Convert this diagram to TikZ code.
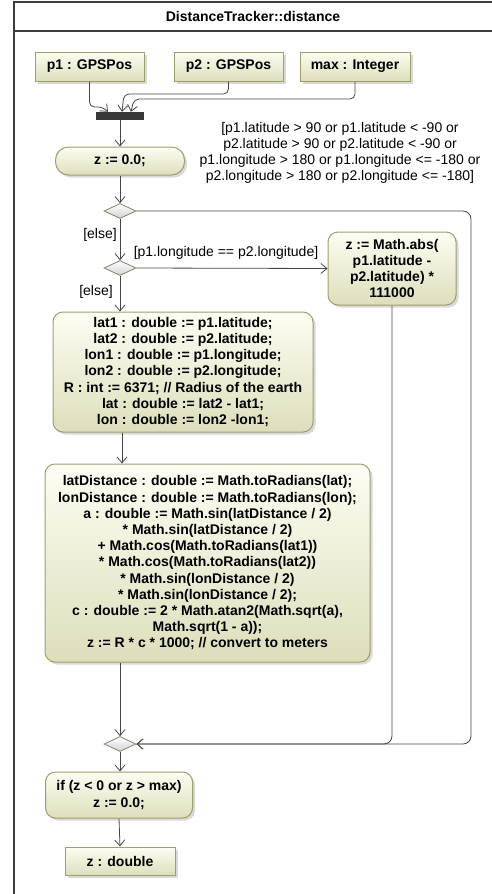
\documentclass[tikz,border=0pt]{standalone}
\usepackage{fontspec}
\setmainfont{Liberation Sans}
\usepackage{tikz}
\usetikzlibrary{arrows.meta,positioning,shapes.geometric,shadows}
\definecolor{FrameGray}{RGB}{60,60,60}
\definecolor{FlowGray}{RGB}{70,70,70}
\definecolor{BarGray}{RGB}{55,55,55}
\definecolor{OliveLine}{RGB}{158,158,112}
\definecolor{OliveTop}{RGB}{253,253,243}
\definecolor{OliveLow}{RGB}{222,222,188}
\definecolor{DiamondLine}{RGB}{128,128,108}

\begin{document}
\begin{tikzpicture}[x=1pt, y=-1pt,
    every node/.style={font=\fontsize{14}{16.2}\selectfont\bfseries, inner sep=2pt},
    action/.style={draw=OliveLine, line width=1pt, rounded corners=10pt, top color=OliveTop, bottom color=OliveLow, align=center,
        drop shadow={opacity=0.3, shadow xshift=2.5pt, shadow yshift=-2.5pt}},
    pin/.style={action, rounded corners=0pt, minimum height=29pt},
    decision/.style={diamond, draw=DiamondLine, line width=0.8pt, top color=white, bottom color=gray!35, minimum width=32pt, minimum height=15pt, inner sep=0pt},
    guard/.style={font=\fontsize{14}{16}\selectfont, align=center, inner sep=0pt},
    flow/.style={draw=FlowGray, line width=0.8pt, -{Straight Barb[length=6pt,width=10pt]}}
]
    \useasboundingbox (0,0) rectangle (491,894);
    % frame of the activity
    \draw[FrameGray, line width=1.5pt] (14,2) rectangle (500,900);
    \draw[FrameGray, line width=1.5pt] (14,31) -- (500,31);
    \node (title) at (253,16) {DistanceTracker::distance};

    % parameters
    \node[pin, minimum width=109pt] (p1pin) at (89.5,66.5) {p1 : GPSPos};
    \node[pin, minimum width=109pt] (p2pin) at (228.5,66.5) {p2 : GPSPos};
    \node[pin, minimum width=110pt] (maxpin) at (355,66.5) {max : Integer};
    \node[fill=BarGray, minimum width=48pt, minimum height=8pt, inner sep=0pt] (fork) at (120,116) {};

    % actions
    \node[action, rounded corners=13pt, minimum width=129pt, minimum height=28pt] (init) at (120,161) {z := 0.0;};
    \node[decision] (split) at (120,211) {};
    \node[decision] (same) at (120,268) {};
    \node[action, minimum width=128pt, minimum height=73pt] (abs) at (392,268.5)
        {z := Math.abs(\\p1.latitude -\\p2.latitude) *\\111000};
    \node[action, minimum width=260pt, minimum height=120pt] (vars) at (183,372)
        {lat1 : double := p1.latitude;\\
         lat2 : double := p2.latitude;\\
         lon1 : double := p1.longitude;\\
         lon2 : double := p2.longitude;\\
         R : int := 6371; // Radius of the earth\\
         lat : double := lat2 - lat1;\\
         lon : double := lon2 -lon1;};
    \node[action, minimum width=325pt, minimum height=198pt] (calc) at (207.5,563)
        {latDistance : double := Math.toRadians(lat);\\
         lonDistance : double := Math.toRadians(lon);\\
         a : double := Math.sin(latDistance / 2)\\
         * Math.sin(latDistance / 2)\\
         + Math.cos(Math.toRadians(lat1))\\
         * Math.cos(Math.toRadians(lat2))\\
         * Math.sin(lonDistance / 2)\\
         * Math.sin(lonDistance / 2);\\
         c : double := 2 * Math.atan2(Math.sqrt(a),\\
         Math.sqrt(1 - a));\\
         z := R * c * 1000; // convert to meters};
    \node[decision] (merge) at (120,744) {};
    \node[action, minimum width=147pt, minimum height=46pt] (check) at (119,795)
        {if (z < 0 or z > max)\\z := 0.0;};
    \node[pin, minimum width=110pt, minimum height=28pt] (result) at (120,861) {z : double};

    % guards
    \node[guard] (rangeGuard) at (340,153)
        {[p1.latitude > 90 or p1.latitude < -90 or\\
         p2.latitude > 90 or p2.latitude < -90 or\\
         p1.longitude > 180 or p1.longitude <= -180 or\\
         p2.longitude > 180 or p2.longitude <= -180]};
    \node[guard] (elseA) at (100,235) {[else]};
    \node[guard] (eqGuard) at (226,253) {[p1.longitude == p2.longitude]};
    \node[guard] (elseB) at (96,292) {[else]};

    \coordinate (loopR) at (471,744);
    \coordinate (spine) at (122,0);

    % flows
    \draw[flow, rounded corners=5pt] (p1pin.south) |- (103,107) -- ([xshift=-12pt]fork.north);
    \draw[flow, rounded corners=5pt] (p2pin.south) |- (124,94) -- ([xshift=2pt]fork.north);
    \draw[flow, rounded corners=5pt] (maxpin.south) |- (134,99) -- ([xshift=11pt]fork.north);
    \draw[flow] (fork.south) -- (init.north);
    \draw[flow] (init.south) -- (split.north);
    \draw[flow, rounded corners=8pt] (split.east) -| (loopR) -- (merge.east);
    \draw[flow] (split.south) -- (same.north);
    \draw[flow] (same.east) -- (abs.west);
    \draw[flow] (same.south) -- (same.south |- vars.north);
    \draw[flow] (spine |- vars.south) -- (spine |- calc.north);
    \draw[flow] (merge.north |- calc.south) -- (merge.north);
    \draw[flow, rounded corners=8pt] (abs.south) |- (merge.east);
    \draw[flow] (merge.south) -- (merge.south |- check.north);
    \draw[flow] (check.south) -- (result.north);
\end{tikzpicture}
\end{document}
